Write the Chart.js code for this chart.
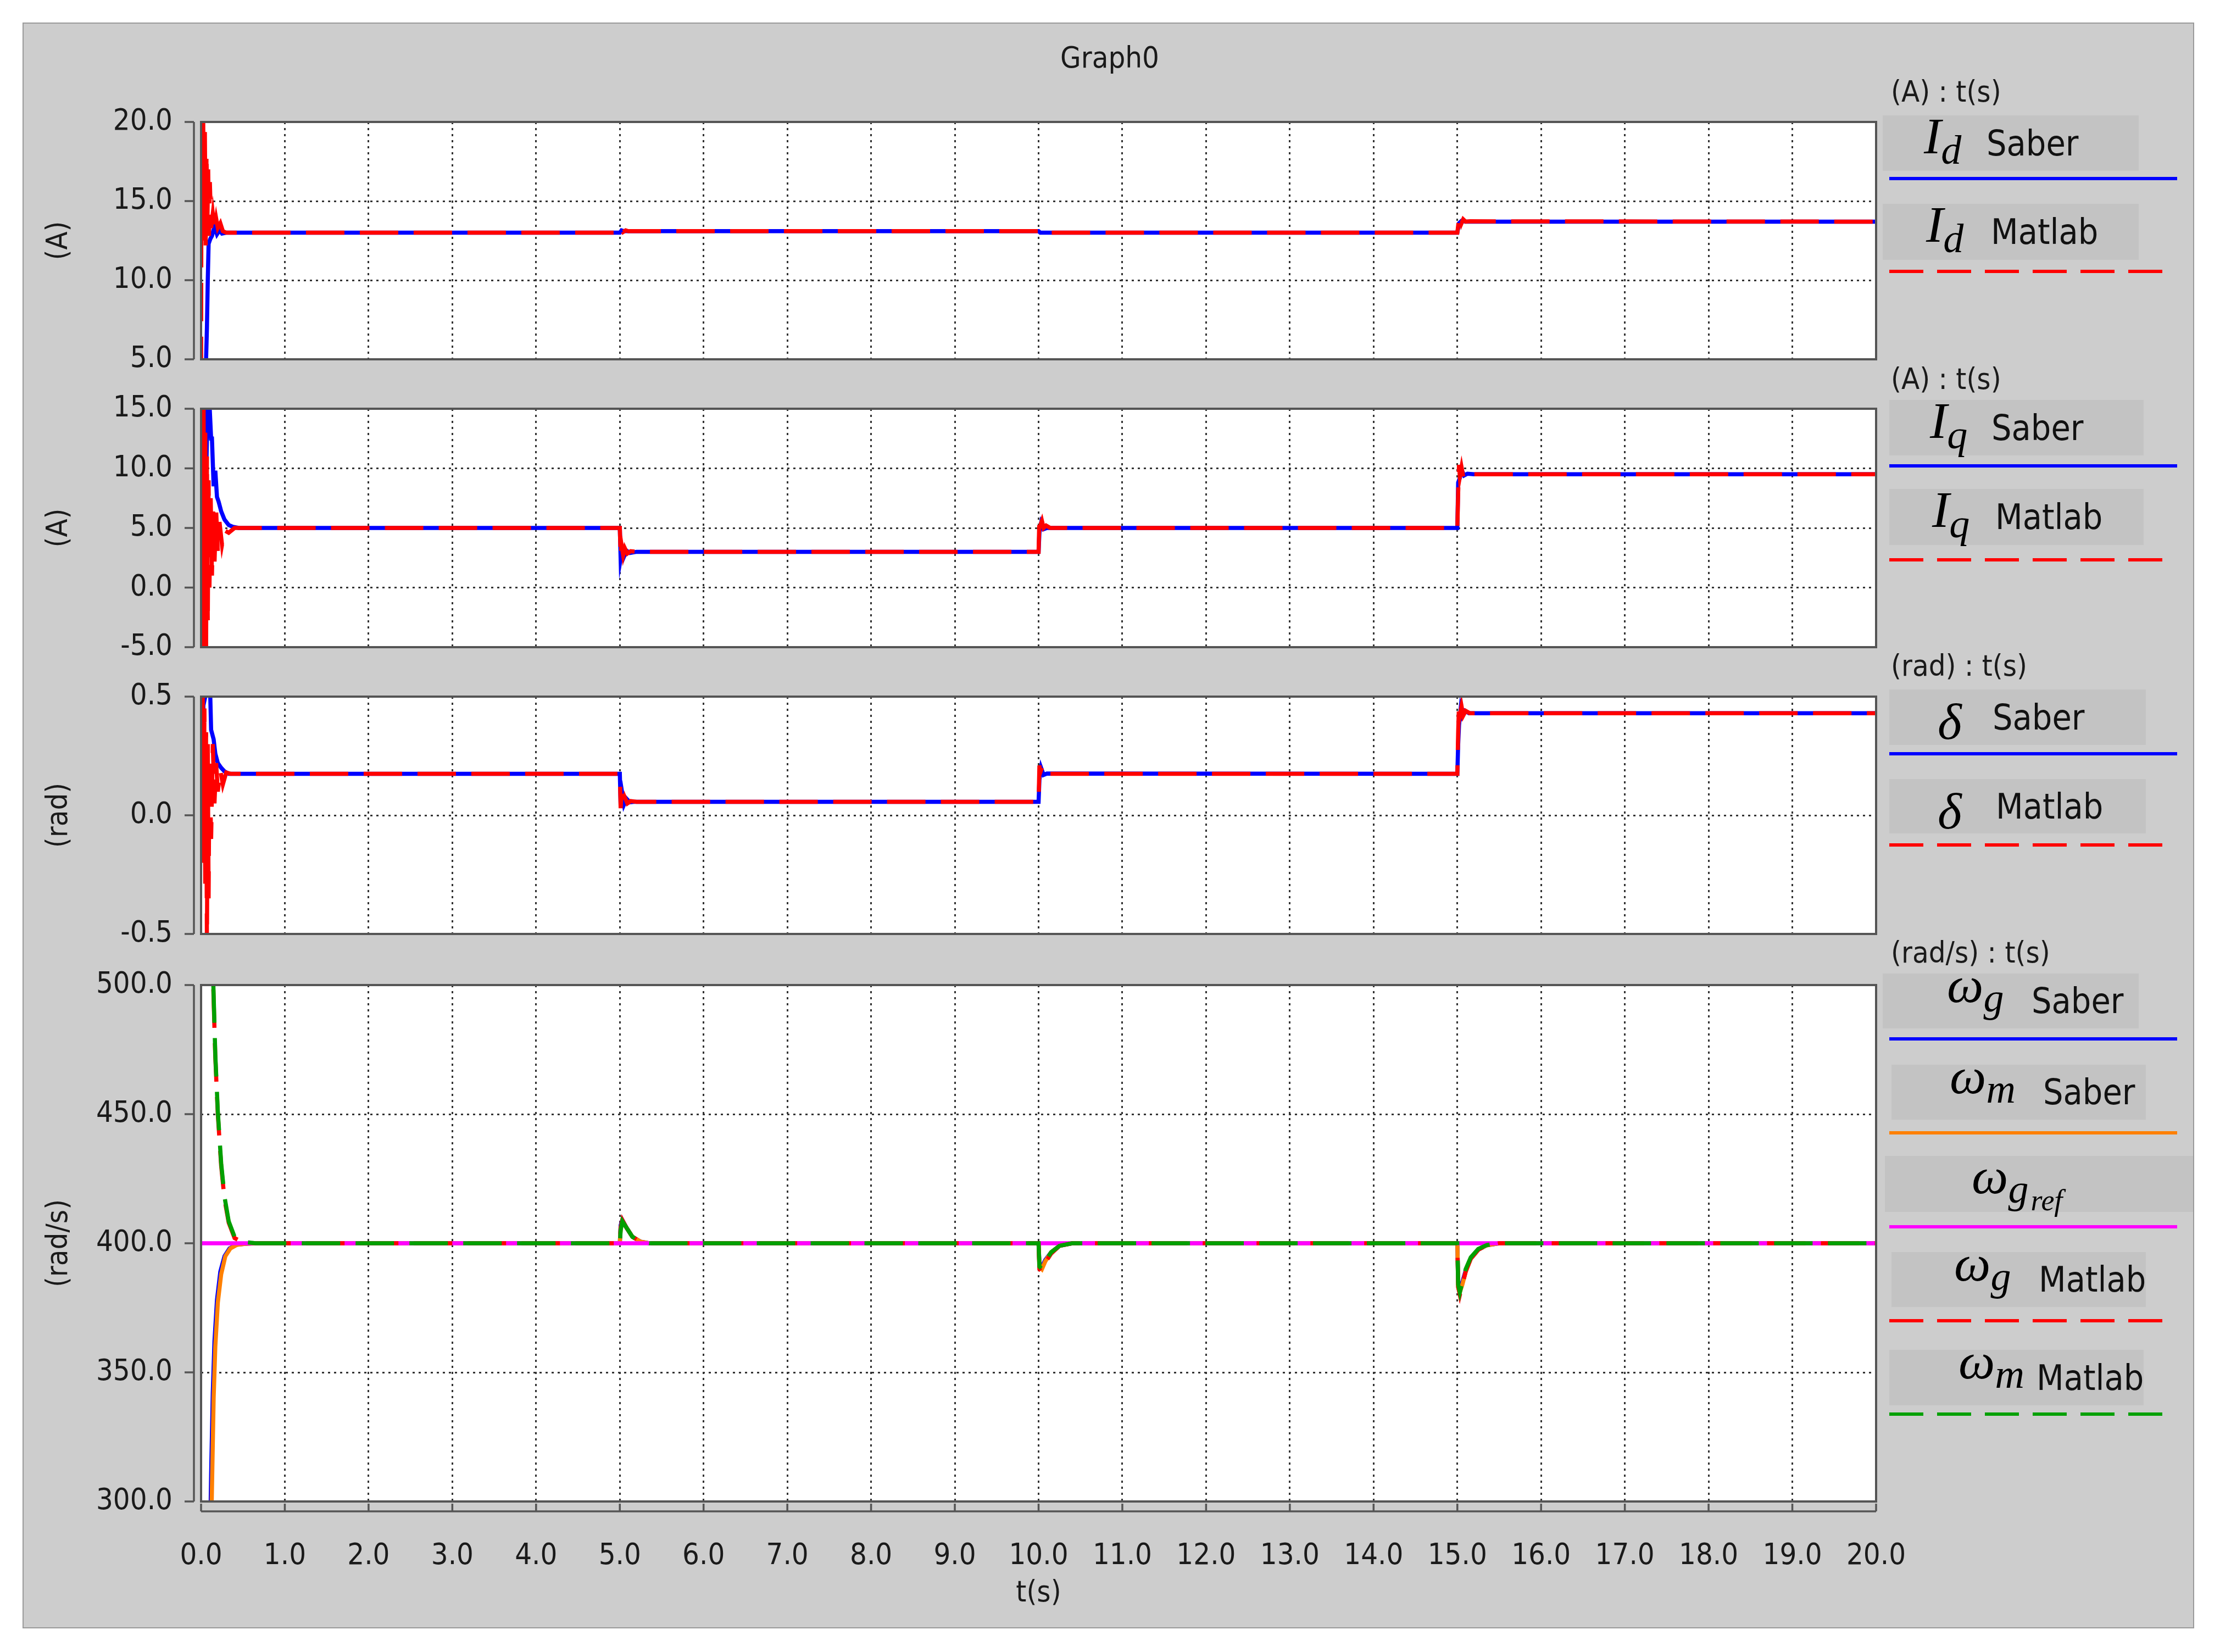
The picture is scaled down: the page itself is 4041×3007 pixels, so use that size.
<!DOCTYPE html>
<html>
<head>
<meta charset="utf-8">
<script src="https://cdn.jsdelivr.net/npm/chart.js@4/dist/chart.umd.min.js"></script>
<style>
  body { margin:0; width:4041px; height:3007px; overflow:hidden; background:#fff; }
  #frame { position:absolute; left:41px; top:41px; width:3953px; height:2923px; background:#cdcdcd; border:2px solid #9a9a9a; box-sizing:border-box; }
  canvas { position:absolute; left:60px; }
  .t { position:absolute; font:54px "DejaVu Sans Condensed", "DejaVu Sans", sans-serif; color:#1a1a1a; white-space:pre; line-height:1; }
  .bx { position:absolute; background:#c3c3c3; z-index:2; }
  .sym { position:absolute; font:italic 94px/1.2 "Liberation Serif", serif; color:#000; white-space:nowrap; }
  .sub { font-size:74px; position:relative; }
  .nm { position:absolute; top:0; bottom:0; display:flex; align-items:center; font:64px "DejaVu Sans Condensed", "DejaVu Sans", sans-serif; color:#111; }
  .ln { position:absolute; height:6px; z-index:2; }
  .dash-r { background:repeating-linear-gradient(to right, #ff0000 0 62px, transparent 62px 87px); }
  .dash-g { background:repeating-linear-gradient(to right, #00a000 0 62px, transparent 62px 87px); }
</style>
</head>
<body>
<div id="frame"></div>
<div class="t" style="left:1930px;top:78px;width:180px;text-align:center">Graph0</div>

<canvas id="c1" width="3415" height="512" style="top:182px"></canvas>
<canvas id="c2" width="3415" height="514" style="top:704px"></canvas>
<canvas id="c3" width="3415" height="512" style="top:1228px"></canvas>
<canvas id="c4" width="3415" height="1190" style="top:1753px"></canvas>

<!-- legend, panel 1 -->
<div class="t" style="left:3442px;top:140px">(A) : t(s)</div>
<div class="bx" style="left:3427px;top:210px;width:466px;height:101px">
  <span class="sym" style="left:75px;top:-19px">I<span class="sub" style="top:19px">d</span></span>
  <span class="nm" style="left:189px">Saber</span>
</div>
<div class="ln" style="left:3439px;top:322px;width:524px;background:#0000ff"></div>
<div class="bx" style="left:3427px;top:371px;width:466px;height:102px">
  <span class="sym" style="left:79px;top:-19px">I<span class="sub" style="top:19px">d</span></span>
  <span class="nm" style="left:197px">Matlab</span>
</div>
<div class="ln dash-r" style="left:3439px;top:491px;width:498px"></div>

<!-- legend, panel 2 -->
<div class="t" style="left:3442px;top:663px">(A) : t(s)</div>
<div class="bx" style="left:3439px;top:728px;width:463px;height:101px">
  <span class="sym" style="left:74px;top:-19px">I<span class="sub" style="top:19px">q</span></span>
  <span class="nm" style="left:186px">Saber</span>
</div>
<div class="ln" style="left:3439px;top:845px;width:524px;background:#0000ff"></div>
<div class="bx" style="left:3439px;top:890px;width:463px;height:102px">
  <span class="sym" style="left:78px;top:-19px">I<span class="sub" style="top:19px">q</span></span>
  <span class="nm" style="left:193px">Matlab</span>
</div>
<div class="ln dash-r" style="left:3439px;top:1016px;width:498px"></div>

<!-- legend, panel 3 -->
<div class="t" style="left:3442px;top:1185px">(rad) : t(s)</div>
<div class="bx" style="left:3439px;top:1255px;width:467px;height:101px">
  <span class="sym" style="left:88px;top:2px">δ</span>
  <span class="nm" style="left:188px">Saber</span>
</div>
<div class="ln" style="left:3439px;top:1369px;width:524px;background:#0000ff"></div>
<div class="bx" style="left:3439px;top:1418px;width:467px;height:99px">
  <span class="sym" style="left:88px;top:2px">δ</span>
  <span class="nm" style="left:194px">Matlab</span>
</div>
<div class="ln dash-r" style="left:3439px;top:1535px;width:498px"></div>

<!-- legend, panel 4 -->
<div class="t" style="left:3442px;top:1707px">(rad/s) : t(s)</div>
<div class="bx" style="left:3427px;top:1772px;width:466px;height:100px">
  <span class="sym" style="left:117px;top:-36px">ω<span class="sub" style="top:17px">g</span></span>
  <span class="nm" style="left:271px">Saber</span>
</div>
<div class="ln" style="left:3439px;top:1888px;width:524px;background:#0000ff"></div>
<div class="bx" style="left:3443px;top:1938px;width:463px;height:100px">
  <span class="sym" style="left:106px;top:-36px">ω<span class="sub" style="top:17px">m</span></span>
  <span class="nm" style="left:276px">Saber</span>
</div>
<div class="ln" style="left:3439px;top:2059px;width:524px;background:#ff8000"></div>
<div class="bx" style="left:3431px;top:2104px;width:561px;height:102px">
  <span class="sym" style="left:158px;top:-20px">ω<span class="sub" style="top:17px">g<span style="font-size:54px;position:relative;top:14px;margin-left:4px">ref</span></span></span>
</div>
<div class="ln" style="left:3439px;top:2230px;width:524px;background:#ff00ff"></div>
<div class="bx" style="left:3443px;top:2279px;width:463px;height:100px">
  <span class="sym" style="left:114px;top:-36px">ω<span class="sub" style="top:17px">g</span></span>
  <span class="nm" style="left:268px">Matlab</span>
</div>
<div class="ln dash-r" style="left:3439px;top:2401px;width:498px"></div>
<div class="bx" style="left:3439px;top:2457px;width:463px;height:101px">
  <span class="sym" style="left:126px;top:-36px">ω<span class="sub" style="top:17px">m</span></span>
  <span class="nm" style="left:268px">Matlab</span>
</div>
<div class="ln dash-g" style="left:3439px;top:2571px;width:498px"></div>

<script>
// ---- data (time in s) ----
// Id (A)
const idSaberT  = [0.00, 0.05, 0.07, 0.08, 0.09, 0.11, 0.13, 0.16, 0.19, 0.22, 0.25, 0.30, 5.00, 5.02, 5.05, 10.00, 10.02, 15.00, 15.02, 15.05, 15.10, 20.00];
const idSaberV  = [0.0, 3.0, 7.0, 10.0, 12.3, 12.6, 12.8, 13.4, 12.9, 13.15, 12.95, 13.0, 13.0, 13.15, 13.1, 13.1, 13.0, 13.0, 13.6, 13.75, 13.7, 13.7];
const idMatlabT = [0.00, 0.005, 0.015, 0.025, 0.035, 0.045, 0.055, 0.065, 0.075, 0.085, 0.095, 0.105, 0.12, 0.14, 0.16, 0.18, 0.20, 0.23, 0.26, 0.30, 5.00, 5.02, 5.04, 5.07, 5.10, 10.00, 10.02, 10.04, 15.00, 15.02, 15.03, 15.05, 15.07, 15.10, 15.15, 20.00];
const idMatlabV = [4.0, 21.0, 12.5, 20.5, 13.0, 19.5, 12.2, 18.0, 13.5, 17.0, 12.8, 16.2, 13.3, 14.2, 13.2, 13.9, 13.3, 13.6, 13.1, 13.0, 13.0, 13.3, 13.05, 13.15, 13.1, 13.1, 12.95, 13.0, 13.0, 13.9, 14.1, 13.6, 13.85, 13.7, 13.72, 13.7];

// Iq (A)
const iqSaberT  = [0.00, 0.01, 0.02, 0.03, 0.04, 0.05, 0.06, 0.08, 0.10, 0.12, 0.13, 0.15, 0.17, 0.19, 0.21, 0.24, 0.28, 0.33, 0.38, 0.45, 5.00, 5.01, 5.03, 5.05, 5.08, 5.12, 5.20, 10.00, 10.01, 10.03, 10.06, 10.10, 15.00, 15.01, 15.03, 15.05, 15.08, 15.12, 15.20, 20.00];
const iqSaberV  = [-4.0, 14.0, 0.0, 13.0, 2.0, 16.0, 9.0, 16.0, 15.5, 12.5, 12.5, 8.5, 9.8, 7.6, 7.2, 6.4, 5.7, 5.25, 5.1, 5.0, 5.0, 2.4, 3.2, 2.6, 3.1, 2.9, 3.0, 3.0, 4.6, 5.4, 4.9, 5.0, 5.0, 8.8, 9.2, 9.9, 9.4, 9.55, 9.5, 9.5];
const iqMatlabT = [0.00, 0.01, 0.02, 0.03, 0.04, 0.05, 0.06, 0.07, 0.08, 0.09, 0.10, 0.115, 0.13, 0.145, 0.16, 0.18, 0.20, 0.22, 0.25, 0.28, 0.33, 0.40, 5.00, 5.01, 5.02, 5.04, 5.06, 5.09, 5.13, 5.20, 10.00, 10.01, 10.02, 10.04, 10.06, 10.09, 10.14, 15.00, 15.01, 15.02, 15.03, 15.05, 15.07, 15.10, 15.14, 15.20, 20.00];
const iqMatlabV = [-5.0, 16.0, -6.0, 15.0, -4.0, 13.0, -5.0, 11.0, -3.0, 9.0, 0.0, 7.5, 1.0, 7.0, 2.0, 6.5, 3.0, 5.5, 3.6, 4.8, 4.6, 5.0, 5.0, 2.6, 3.6, 2.7, 3.3, 2.85, 3.05, 3.0, 3.0, 5.9, 5.2, 5.6, 5.0, 5.2, 5.0, 5.0, 8.0, 10.3, 9.3, 10.1, 9.3, 9.7, 9.45, 9.5, 9.5];

// delta (rad)
const dSaberT  = [0.00, 0.01, 0.02, 0.03, 0.05, 0.08, 0.11, 0.12, 0.15, 0.17, 0.20, 0.24, 0.28, 0.33, 5.00, 5.01, 5.03, 5.05, 5.08, 5.12, 5.18, 10.00, 10.01, 10.03, 10.06, 10.10, 15.00, 15.01, 15.02, 15.04, 15.06, 15.09, 15.14, 20.00];
const dSaberV  = [0.0, 0.45, 0.2, 0.55, 0.5, 0.55, 0.5, 0.36, 0.32, 0.26, 0.22, 0.2, 0.185, 0.175, 0.175, 0.04, 0.09, 0.045, 0.07, 0.055, 0.057, 0.057, 0.15, 0.2, 0.17, 0.176, 0.175, 0.3, 0.38, 0.45, 0.42, 0.44, 0.43, 0.43];
const dMatlabT = [0.00, 0.01, 0.02, 0.03, 0.04, 0.05, 0.06, 0.07, 0.08, 0.09, 0.10, 0.12, 0.14, 0.16, 0.18, 0.20, 0.23, 0.26, 0.30, 0.35, 5.00, 5.01, 5.02, 5.04, 5.06, 5.09, 5.13, 5.20, 10.00, 10.01, 10.02, 10.04, 10.06, 10.09, 10.14, 15.00, 15.01, 15.02, 15.03, 15.05, 15.07, 15.10, 15.15, 20.00];
const dMatlabV = [0.55, -0.1, 0.5, -0.2, 0.45, -0.3, 0.35, -0.55, 0.3, -0.35, 0.25, -0.1, 0.3, 0.05, 0.22, 0.1, 0.19, 0.13, 0.18, 0.175, 0.175, 0.03, 0.09, 0.04, 0.075, 0.05, 0.06, 0.057, 0.057, 0.21, 0.18, 0.2, 0.17, 0.18, 0.175, 0.175, 0.35, 0.47, 0.42, 0.46, 0.42, 0.44, 0.43, 0.43];

// speeds (rad/s)
const wgSaberT  = [0.10, 0.12, 0.14, 0.16, 0.19, 0.23, 0.28, 0.34, 0.42, 0.52, 0.65, 5.00, 5.01, 5.03, 5.08, 5.15, 5.25, 5.35, 10.00, 10.01, 10.04, 10.08, 10.15, 10.25, 10.40, 15.00, 15.01, 15.03, 15.06, 15.10, 15.16, 15.25, 15.35, 15.50, 20.00];
const wgSaberV  = [270, 310, 342, 362, 378, 389, 395, 398, 399.4, 399.8, 400, 400, 407, 409, 406, 402.5, 400.6, 400, 400, 392, 391, 393.5, 396.5, 399, 400, 400, 385, 382, 385, 389.5, 394, 397.5, 399.2, 400, 400];
const wmSaberT  = [0.11, 0.13, 0.15, 0.17, 0.20, 0.24, 0.29, 0.35, 0.43, 0.53, 0.66, 5.00, 5.01, 5.03, 5.08, 5.15, 5.25, 5.35, 10.00, 10.01, 10.04, 10.08, 10.15, 10.25, 10.40, 15.00, 15.01, 15.03, 15.06, 15.10, 15.16, 15.25, 15.35, 15.50, 20.00];
const wmSaberV  = [270, 305, 340, 360, 377, 388, 395, 398, 399.4, 399.8, 400, 400, 406, 408.5, 406, 402.5, 400.6, 400, 400, 391, 390, 393, 396.5, 399, 400, 400, 383, 381, 384, 389, 394, 397.5, 399.2, 400, 400];
const wgRefT    = [0, 20];
const wgRefV    = [400, 400];
const wgMatlabT = [0.12, 0.145, 0.17, 0.20, 0.24, 0.28, 0.33, 0.40, 0.50, 0.65, 5.00, 5.01, 5.03, 5.08, 5.15, 5.25, 5.35, 10.00, 10.01, 10.04, 10.08, 10.15, 10.25, 10.40, 15.00, 15.01, 15.03, 15.06, 15.10, 15.16, 15.25, 15.35, 15.50, 20.00];
const wgMatlabV = [540, 500, 472, 450, 430, 417, 408, 402, 400.4, 400, 400, 406, 409, 406, 402.5, 400.6, 400, 400, 390, 389, 392.5, 396, 399, 400, 400, 383, 380, 384, 389, 394, 397.5, 399.2, 400, 400];
const wmMatlabT = [0.12, 0.145, 0.17, 0.20, 0.24, 0.28, 0.33, 0.40, 0.50, 0.65, 5.00, 5.01, 5.03, 5.08, 5.15, 5.25, 5.35, 10.00, 10.01, 10.04, 10.08, 10.15, 10.25, 10.40, 15.00, 15.01, 15.03, 15.06, 15.10, 15.16, 15.25, 15.35, 15.50, 20.00];
const wmMatlabV = [542, 502, 473, 451, 431, 418, 408.5, 402.5, 400.5, 400, 400, 405, 408.5, 406, 402.5, 400.6, 400, 400, 391, 390, 393, 396.5, 399, 400, 400, 384, 381, 385, 390, 394.5, 397.8, 399.3, 400, 400];

const FONT = '"DejaVu Sans Condensed", "DejaVu Sans", sans-serif';
const BLUE = '#0000ff', RED = '#ff0000', ORANGE = '#ff8000', MAGENTA = '#ff00ff', GREEN = '#00a000';

function pts(t, v) { return t.map((x, i) => ({ x: x, y: v[i] })); }
function line(t, v, color, dashed) {
  return {
    data: pts(t, v), borderColor: color, borderWidth: 7.5, pointRadius: 0,
    borderDash: dashed ? [70, 28] : [], fill: false, clip: 0, borderCapStyle: 'butt'
  };
}

// white plot area, box border and the detached axis lines
const framePlugin = {
  id: 'frame',
  beforeDraw(chart) {
    const a = chart.chartArea, c = chart.ctx;
    c.save();
    c.fillStyle = '#ffffff';
    c.fillRect(a.left, a.top, a.right - a.left, a.bottom - a.top);
    c.restore();
  },
  afterDraw(chart, args, opts) {
    const a = chart.chartArea, c = chart.ctx, ys = chart.scales.y, xs = chart.scales.x;
    c.save();
    c.strokeStyle = '#555';
    c.lineWidth = 4;
    c.strokeRect(a.left, a.top, a.right - a.left, a.bottom - a.top);
    c.lineWidth = 3.5;
    c.beginPath();
    const ax = a.left - 13;
    c.moveTo(ax, a.top); c.lineTo(ax, a.bottom);
    ys.ticks.forEach(t => { const py = ys.getPixelForValue(t.value); c.moveTo(ax, py); c.lineTo(ax - 17, py); });
    if (opts.xAxis) {
      const ay = a.bottom + 18;
      c.moveTo(a.left, ay); c.lineTo(a.right, ay);
      xs.ticks.forEach(t => { const px = xs.getPixelForValue(t.value); c.moveTo(px, ay); c.lineTo(px, ay - 14); });
    }
    c.stroke();
    c.restore();
  }
};

function makePanel(id, datasets, yMin, yMax, yStep, yTitle, showX) {
  return new Chart(document.getElementById(id), {
    type: 'line',
    data: { datasets: datasets },
    options: {
      responsive: false, animation: false, devicePixelRatio: 1, events: [],
      layout: { padding: { left: 0, right: 60, top: 40, bottom: showX ? 10 : 40 } },
      plugins: { legend: { display: false }, tooltip: { enabled: false }, frame: { xAxis: showX } },
      scales: {
        x: {
          type: 'linear', min: 0, max: 20,
          afterFit: s => { s.height = showX ? 200 : 0; s.paddingLeft = 0; s.paddingRight = 0; },
          ticks: { display: showX, stepSize: 1, padding: 68, color: '#1a1a1a', font: { family: FONT, size: 54 },
                   callback: v => v.toFixed(1), maxRotation: 0, autoSkip: false },
          grid: { color: '#333', lineWidth: 3, drawTicks: false },
          border: { display: false, dash: [4, 7] },
          title: { display: showX, text: 't(s)', color: '#1a1a1a', font: { family: FONT, size: 54 }, padding: { top: 0, bottom: 0 } }
        },
        y: {
          type: 'linear', min: yMin, max: yMax,
          afterFit: s => { s.width = 306; s.paddingTop = 0; s.paddingBottom = 0; },
          ticks: { stepSize: yStep, padding: 52, color: '#1a1a1a', font: { family: FONT, size: 54 },
                   callback: v => v.toFixed(1) },
          grid: { color: '#333', lineWidth: 3, drawTicks: false },
          border: { display: false, dash: [4, 7] },
          title: { display: true, text: yTitle, color: '#1a1a1a', font: { family: FONT, size: 54 }, padding: { top: 16, bottom: 0 } }
        }
      }
    },
    plugins: [framePlugin]
  });
}

// first dataset is drawn on top
makePanel('c1', [
  line(idMatlabT, idMatlabV, RED, true),
  line(idSaberT, idSaberV, BLUE, false)
], 5, 20, 5, '(A)', false);

makePanel('c2', [
  line(iqMatlabT, iqMatlabV, RED, true),
  line(iqSaberT, iqSaberV, BLUE, false)
], -5, 15, 5, '(A)', false);

makePanel('c3', [
  line(dMatlabT, dMatlabV, RED, true),
  line(dSaberT, dSaberV, BLUE, false)
], -0.5, 0.5, 0.5, '(rad)', false);

makePanel('c4', [
  line(wmMatlabT, wmMatlabV, GREEN, true),
  line(wgMatlabT, wgMatlabV, RED, true),
  line(wgRefT, wgRefV, MAGENTA, false),
  line(wmSaberT, wmSaberV, ORANGE, false),
  line(wgSaberT, wgSaberV, BLUE, false)
], 300, 500, 50, '(rad/s)', true);
</script>
</body>
</html>
